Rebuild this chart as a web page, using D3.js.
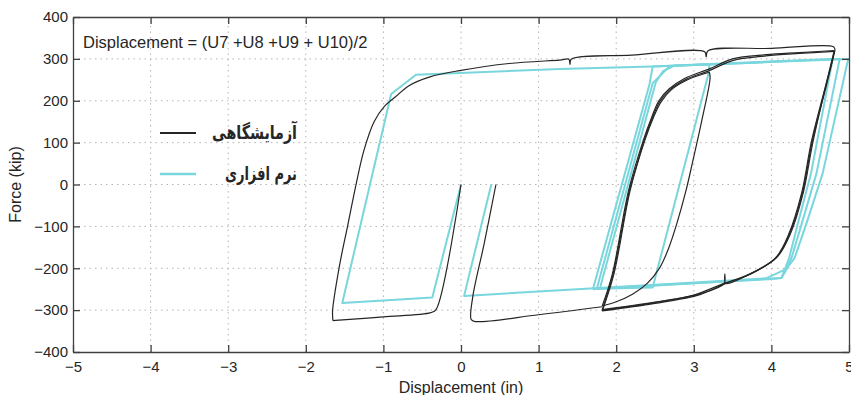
<!DOCTYPE html>
<html>
<head>
<meta charset="utf-8">
<script src="https://cdn.jsdelivr.net/npm/d3@7"></script>
<style>
  body { margin: 0; background: #fff; }
  svg text { font-family: "Liberation Sans", Arial, Helvetica, sans-serif; fill: #262626; }
  .axis path, .axis line { stroke: #404040; stroke-width: 1.3; }
  .grid line { stroke: #b4b4b4; stroke-width: 1; stroke-dasharray: 1.5 4; }
</style>
</head>
<body>
<svg id="chart" width="851" height="395"></svg>
<script>
// axis ticks
const xTicks = [-5, -4, -3, -2, -1, 0, 1, 2, 3, 4, 5];
const yTicks = [-400, -300, -200, -100, 0, 100, 200, 300, 400];

// series labels
const seriesNames = ['آزمایشگاهی', 'نرم افزاری'];

// experimental (black) curve, [displacement, force]
const expStart = [[0, 0], [-0.32, -298], [-0.39, -306], [-1.0, -316], [-1.57, -324], [-1.65, -325]];
const expBigLoop = [[-1.65, -325], [-1.655, -302], [-1.57, -198], [-1.46, -98], [-1.35, 2], [-1.25, 82],
  [-1.12, 150], [-0.99, 186], [-0.84, 210], [-0.67, 236], [-0.4, 257], [-0.02, 272], [0.62, 289],
  [1.27, 297], [1.39, 299], [1.405, 287], [1.42, 299], [2.2, 309], [3.14, 317], [3.16, 305],
  [3.18, 319], [4.0, 325], [4.80, 329], [4.82, 321]];
const expDownA = [[4.82, 321], [4.70, 230], [4.53, 106], [4.40, -20], [4.23, -120], [4.06, -175],
  [3.72, -214], [3.41, -236], [3.40, -214], [3.39, -237], [3.08, -261], [2.5, -282], [1.82, -300]];
const expUpA = [[1.82, -300], [1.87, -270], [1.96, -214], [2.07, -110], [2.17, -14], [2.27, 50],
  [2.36, 106], [2.47, 161], [2.56, 198], [2.69, 226], [2.9, 251], [3.2, 272], [3.5, 296],
  [3.93, 307], [4.36, 313], [4.81, 318]];
const expDownB = [[4.81, 318], [4.79, 300], [4.52, 106], [4.39, -20], [4.22, -120], [4.05, -176],
  [3.72, -215], [3.39, -238], [3.08, -263], [2.5, -284], [1.82, -302]];
const expUpB = [[1.82, -302], [1.97, -214], [2.18, -14], [2.37, 106], [2.48, 160], [2.58, 198],
  [2.71, 226], [2.92, 250], [3.2, 268]];
const expInner = [[3.2, 268], [3.21, 255], [3.1, 150], [2.98, 50], [2.9, -14], [2.78, -94],
  [2.67, -155], [2.56, -199], [2.4, -236], [2.21, -262], [2.0, -280], [1.82, -290]];
const expUpC = [[1.82, -290], [1.95, -214], [2.16, -14], [2.35, 106], [2.46, 162], [2.55, 200],
  [2.68, 228], [2.88, 253], [3.2, 276], [3.5, 300], [3.93, 310], [4.36, 315], [4.81, 320]];
const expDownC = [[4.81, 320], [4.54, 106], [4.41, -20], [4.24, -120], [4.07, -174], [3.73, -213],
  [3.39, -236], [3.0, -264], [2.5, -281], [1.82, -299]];
const expSecond = [[0.45, 0], [0.30, -140], [0.15, -270], [0.13, -322], [0.17, -327], [1.0, -311], [1.82, -292]];

// software (cyan) curve, [displacement, force]
const simFirst = [[0, 0], [-0.37, -270], [-1.53, -283], [-0.90, 216], [-0.58, 262], [1.27, 276],
  [2.47, 282], [3.76, 291], [5.0, 300]];
const simDown1 = [[4.99, 300], [4.66, 26], [4.45, -94], [4.30, -175], [4.19, -202], [3.93, -224],
  [1.72, -248], [0.04, -266], [0.39, 0]];
const simCycle2 = [[1.70, -250], [2.43, 240], [2.47, 282], [3.2, 287], [3.19, 265], [2.47, -246], [1.75, -249]];
const simCycle3 = [[1.75, -249], [2.47, 242], [2.69, 283], [3.76, 291], [4.88, 300], [4.58, 26],
  [4.39, -94], [4.26, -175], [4.19, -204], [4.13, -223], [3.97, -226], [1.79, -248]];
const simCycle4 = [[1.79, -248], [2.51, 244], [2.60, 270], [2.75, 284], [3.76, 292], [4.79, 300],
  [4.51, 26], [4.34, -94], [4.23, -175], [4.13, -223], [1.70, -250]];

const expSegments = [expStart, expBigLoop, expDownA, expUpA, expDownB, expUpB, expInner, expUpC, expDownC, expSecond];
const simSegments = [simFirst, simDown1, simCycle2, simCycle3, simCycle4];

const expColor = '#262626';
const simColor = '#79d6dd';

const svg = d3.select('#chart');
const margin = { left: 73, right: 2, top: 17, bottom: 43 };
const width = 851, height = 395;

const x = d3.scaleLinear().domain([-5, 5]).range([margin.left, width - margin.right]);
const y = d3.scaleLinear().domain([-400, 400]).range([height - margin.bottom, margin.top]);

// grid
const grid = svg.append('g').attr('class', 'grid');
grid.selectAll('.vg').data(xTicks.slice(1, -1)).enter().append('line')
  .attr('x1', d => x(d)).attr('x2', d => x(d))
  .attr('y1', y(-400)).attr('y2', y(400));
grid.selectAll('.hg').data(yTicks.slice(1, -1)).enter().append('line')
  .attr('x1', x(-5)).attr('x2', x(5))
  .attr('y1', d => y(d)).attr('y2', d => y(d));

svg.append('clipPath').attr('id', 'plotClip').append('rect')
  .attr('x', x(-5)).attr('y', y(400))
  .attr('width', x(5) - x(-5)).attr('height', y(-400) - y(400));

const line = d3.line().x(d => x(d[0])).y(d => y(d[1]));
const smooth = d3.line().x(d => x(d[0])).y(d => y(d[1])).curve(d3.curveCatmullRom.alpha(0.5));

const plot = svg.append('g').attr('clip-path', 'url(#plotClip)');
plot.selectAll('.sim').data(simSegments).enter().append('path')
  .attr('d', line).attr('fill', 'none')
  .attr('stroke', simColor).attr('stroke-width', 2).attr('stroke-linejoin', 'round');
plot.selectAll('.exp').data(expSegments).enter().append('path')
  .attr('d', smooth).attr('fill', 'none')
  .attr('stroke', expColor).attr('stroke-width', 1.2).attr('stroke-linejoin', 'round');

// axes (ticks point inward, box on all four sides)
const fmt = d3.format('d');
svg.append('g').attr('class', 'axis')
  .attr('transform', `translate(0,${y(-400)})`)
  .call(d3.axisBottom(x).tickValues(xTicks).tickFormat(fmt).tickSize(-7).tickSizeOuter(0).tickPadding(9.5))
  .call(g => g.selectAll('text').style('font-size', '15px'));
svg.append('g').attr('class', 'axis')
  .attr('transform', `translate(${x(-5)},0)`)
  .call(d3.axisLeft(y).tickValues(yTicks).tickFormat(fmt).tickSize(-7).tickSizeOuter(0).tickPadding(5))
  .call(g => g.selectAll('text').style('font-size', '15px'));
svg.append('g').attr('class', 'axis')
  .attr('transform', `translate(0,${y(400)})`)
  .call(d3.axisTop(x).tickValues(xTicks).tickFormat('').tickSize(-7).tickSizeOuter(0));
svg.append('g').attr('class', 'axis')
  .attr('transform', `translate(${x(5)},0)`)
  .call(d3.axisRight(y).tickValues(yTicks).tickFormat('').tickSize(-7).tickSizeOuter(0));
svg.selectAll('.axis text').attr('fill', '#262626');

// axis titles
svg.append('text')
  .attr('x', (x(-5) + x(5)) / 2).attr('y', 393)
  .attr('text-anchor', 'middle').style('font-size', '16px')
  .text('Displacement (in)');
svg.append('text')
  .attr('transform', `translate(21,${(y(-400) + y(400)) / 2}) rotate(-90)`)
  .attr('text-anchor', 'middle').style('font-size', '16px')
  .text('Force (kip)');

// annotation
svg.append('text')
  .attr('x', 83).attr('y', 47.5).style('font-size', '16.5px')
  .text('Displacement = (U7 +U8 +U9 + U10)/2');

// legend
const legend = svg.append('g');
const legendRows = [
  { name: seriesNames[0], color: expColor, width: 2.2, y: 133, len: 85 },
  { name: seriesNames[1], color: simColor, width: 2.5, y: 174, len: 72 }
];
legendRows.forEach(r => {
  legend.append('line').attr('x1', 160).attr('x2', 196).attr('y1', r.y).attr('y2', r.y)
    .attr('stroke', r.color).attr('stroke-width', r.width);
  legend.append('text').attr('x', 297).attr('y', r.y + 6)
    .attr('text-anchor', 'end')
    .attr('textLength', r.len).attr('lengthAdjust', 'spacingAndGlyphs')
    .style('font-family', '"DejaVu Sans", sans-serif').style('font-size', '19px').style('font-weight', 'bold')
    .text(r.name);
});
</script>
</body>
</html>
